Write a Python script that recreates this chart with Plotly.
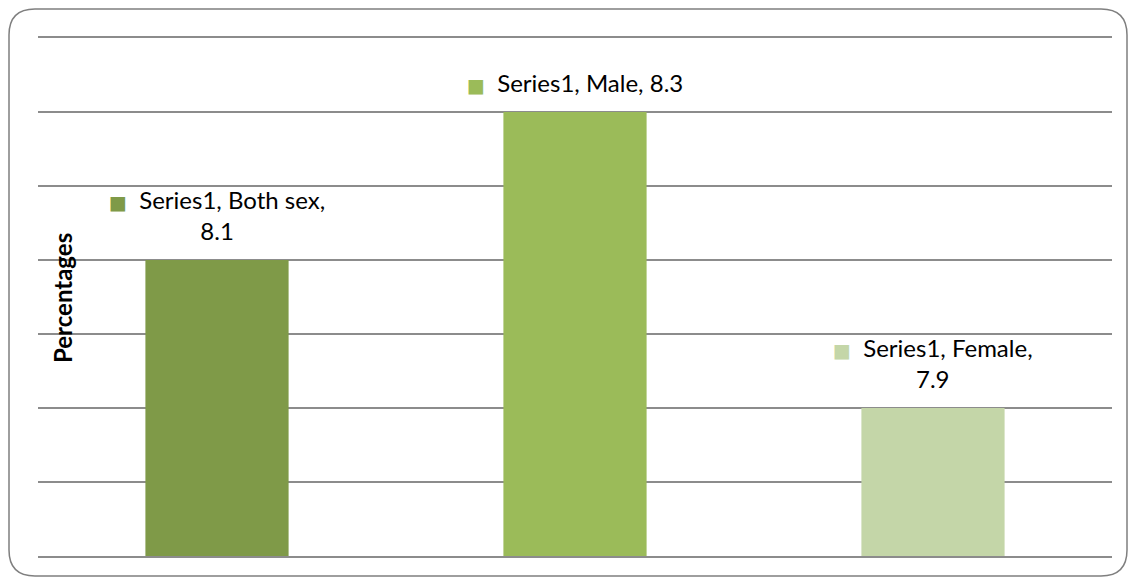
import plotly.graph_objects as go

categories = ["Both sex", "Male", "Female"]
values = [8.1, 8.3, 7.9]
series_name = "Series1"
colors = ["#7F9A48", "#9BBB59", "#C4D6A8"]
label_texts = [
    "Series1, Both sex,<br>8.1",
    "Series1, Male, 8.3",
    "Series1, Female,<br>7.9",
]

W, H = 1132, 581
ml, mr, mt, mb = 38, 20, 38, 25
pw, ph = W - ml - mr, H - mt - mb

fig = go.Figure()
fig.add_trace(go.Bar(
    x=categories, y=values, name=series_name,
    marker=dict(color=colors, line=dict(width=0)),
    showlegend=False, hoverinfo="x+y",
))

font_family = "Lato, 'Open Sans', sans-serif"
for cat, val, col, txt in zip(categories, values, colors, label_texts):
    first, *rest = txt.split("<br>")
    line1 = f"<span style='color:{col};font-size:19px;font-family:DejaVu Sans'>■</span>  {first}"
    full = line1 + ("<br>" + rest[0] if rest else "")
    fig.add_annotation(
        x=cat, y=val, xref="x", yref="y", text=full, showarrow=False,
        yanchor="bottom", yshift=13, align="center",
        font=dict(family=font_family, size=24, color="#000000"),
    )

# y-axis title inside the frame
fig.add_annotation(
    x=(62 - ml) / pw, y=(H - mb - 298) / ph, xref="paper", yref="paper",
    text="<b>Percentages</b>", textangle=-90, showarrow=False,
    xanchor="center", yanchor="middle",
    font=dict(family=font_family, size=24, color="#000000"),
)

# rounded frame
def px2x(px):
    return (px - ml) / pw

def py2y(py):
    return (H - mb - py) / ph

x0, x1, y0, y1, r = 9, 1127, 9, 576, 26
path = (
    f"M {px2x(x0 + r)} {py2y(y0)} L {px2x(x1 - r)} {py2y(y0)} "
    f"Q {px2x(x1)} {py2y(y0)} {px2x(x1)} {py2y(y0 + r)} "
    f"L {px2x(x1)} {py2y(y1 - r)} "
    f"Q {px2x(x1)} {py2y(y1)} {px2x(x1 - r)} {py2y(y1)} "
    f"L {px2x(x0 + r)} {py2y(y1)} "
    f"Q {px2x(x0)} {py2y(y1)} {px2x(x0)} {py2y(y1 - r)} "
    f"L {px2x(x0)} {py2y(y0 + r)} "
    f"Q {px2x(x0)} {py2y(y0)} {px2x(x0 + r)} {py2y(y0)} Z"
)
fig.add_shape(type="path", path=path, xref="paper", yref="paper",
              line=dict(color="#7F7F7F", width=1.5), layer="below")

fig.update_layout(
    width=W, height=H,
    margin=dict(l=ml, r=mr, t=mt, b=mb),
    paper_bgcolor="white", plot_bgcolor="white",
    bargap=0.6,
    xaxis=dict(showticklabels=False, showgrid=False, zeroline=False,
               showline=True, mirror=True, linecolor="#8C8C8C", linewidth=2,
               ticks=""),
    yaxis=dict(range=[7.7, 8.4], dtick=0.1, tick0=7.7,
               showticklabels=False, showgrid=True,
               gridcolor="#8C8C8C", gridwidth=2, zeroline=False,
               showline=False, ticks=""),
)

fig.write_html("out.html")
